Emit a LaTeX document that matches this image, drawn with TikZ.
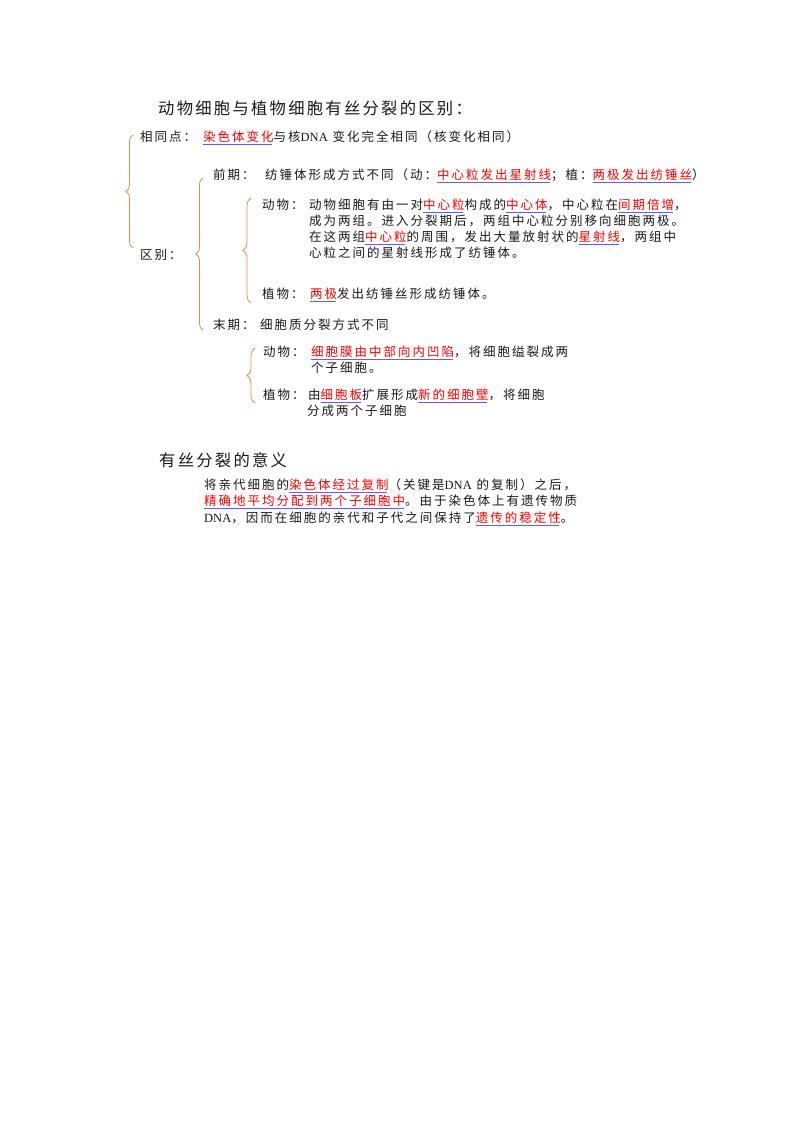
\documentclass[tikz,border=0pt]{standalone}
\usepackage{fontspec}
\setmainfont[LetterSpace=16]{Noto Sans CJK SC}
\newfontfamily\ttl[LetterSpace=14]{Noto Sans CJK SC}
\newfontfamily\lat{Liberation Serif}
\usetikzlibrary{decorations.pathreplacing}
\definecolor{brc}{RGB}{226,140,80}
\definecolor{ulc}{RGB}{95,95,235}
\definecolor{rd}{RGB}{255,0,0}
\definecolor{tx}{RGB}{25,25,25}
\newsavebox\hlbox
\newlength\hlwd
\newcommand\hlr[1]{\begingroup\sbox\hlbox{\textcolor{rd}{#1}}\setlength\hlwd{\wd\hlbox}\addtolength\hlwd{-1.5pt}\rlap{\textcolor{ulc}{\rule[-2.9pt]{\hlwd}{0.9pt}}}\usebox\hlbox\endgroup}
\begin{document}
\begin{tikzpicture}[x=1pt,y=-1pt,
  t/.style={anchor=west,inner sep=0pt,text=tx,font=\fontsize{12.5}{15}\selectfont,text height=11pt,text depth=1.5pt},
  hd/.style={anchor=west,inner sep=0pt,text=tx,font=\ttl\fontsize{16.3}{19}\selectfont,text height=14pt,text depth=2pt},
  bracex/.style={draw=brc,line width=0.8pt,decorate,decoration={brace,amplitude=#1}}]
\useasboundingbox (0,0) rectangle (800,1132);
\fill[white] (0,0) rectangle (800,1132);
% title
\node[hd] (title) at (158,108) {动物细胞与植物细胞有丝分裂的区别：};
% same
\node[t] (same) at (140,137) {相同点：};
\node[t] (samet) at (203,137) {\hlr{染色体变化}与核{\lat DNA} 变化完全相同（核变化相同）};
\node[t] (diff) at (140,255) {区别：};
% prophase
\node[t] (pro) at (213,175) {前期：};
\node[t] (prot) at (265,175) {纺锤体形成方式不同（动：\hlr{中心粒发出星射线}；植：\hlr{两极发出纺锤丝}）};
\node[t] (pa) at (262,205) {动物：};
\node[t] (pa1) at (309,205) {动物细胞有由一对\hlr{中心粒}构成的\hlr{中心体}，中心粒在\hlr{间期倍增}，};
\node[t] (pa2) at (309,221) {成为两组。进入分裂期后，两组中心粒分别移向细胞两极。};
\node[t] (pa3) at (309,237) {在这两组\hlr{中心粒}的周围，发出大量放射状的\hlr{星射线}，两组中};
\node[t] (pa4) at (309,253) {心粒之间的星射线形成了纺锤体。};
\node[t] (pp) at (262,294) {植物：};
\node[t] (pp1) at (310,294) {\hlr{两极}发出纺锤丝形成纺锤体。};
% telophase
\node[t] (tel) at (213,325) {末期：};
\node[t] (telt) at (260,325) {细胞质分裂方式不同};
\node[t] (ta) at (263,352) {动物：};
\node[t] (ta1) at (311,352) {\hlr{细胞膜由中部向内凹陷}，将细胞缢裂成两};
\node[t] (ta2) at (311,368) {个子细胞。};
\node[t] (tp) at (263,395) {植物：};
\node[t] (tp1) at (308,395) {由\hlr{细胞板}扩展形成\hlr{新的细胞壁}，将细胞};
\node[t] (tp2) at (307,411) {分成两个子细胞};
% significance
\node[hd] (sig) at (159,460) {有丝分裂的意义};
\node[t] (s1) at (204,485) {将亲代细胞的\hlr{染色体经过复制}（关键是{\lat DNA} 的复制）之后，};
\node[t] (s2) at (204,501) {\hlr{精确地平均分配到两个子细胞中}。由于染色体上有遗传物质};
\node[t] (s3) at (204,518) {{\lat DNA}，因而在细胞的亲代和子代之间保持了\hlr{遗传的稳定性}。};
% braces
\coordinate (b1a) at (133,248); \coordinate (b1b) at (133,135);
\coordinate (b2a) at (203,330); \coordinate (b2b) at (203,178);
\coordinate (b3a) at (251,303); \coordinate (b3b) at (251,198);
\coordinate (b4a) at (255,403); \coordinate (b4b) at (255,348);
\draw[bracex=7pt] (b1a) -- (b1b);
\draw[bracex=7pt] (b2a) -- (b2b);
\draw[bracex=8pt] (b3a) -- (b3b);
\draw[bracex=8pt] (b4a) -- (b4b);
\end{tikzpicture}
\end{document}
